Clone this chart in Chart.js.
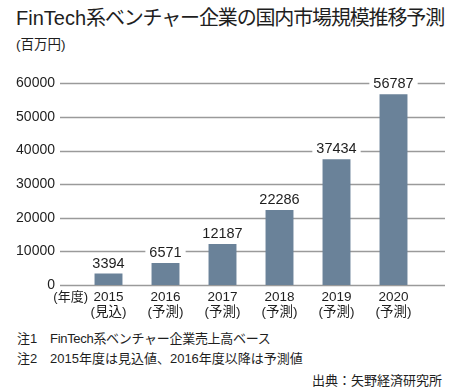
<!DOCTYPE html>
<html>
<head>
<meta charset="utf-8">
<script src="https://cdn.jsdelivr.net/npm/chart.js@4.4.0/dist/chart.umd.min.js"></script>
<style>
  body { margin: 0; background: #fff; }
  #page { position: relative; width: 450px; height: 391px; overflow: hidden;
          font-family: "Liberation Sans", "Noto Sans CJK JP", sans-serif; color: #1e1e1e; }
  .title { position: absolute; left: 16px; top: 7px; font-size: 20px; line-height: 23px; white-space: nowrap; }
  .title .jp { letter-spacing: -1.15px; }
  .unit { position: absolute; left: 16px; top: 37px; font-size: 13.5px; line-height: 16px; }
  .note { position: absolute; font-size: 13px; line-height: 16px; white-space: nowrap; }
  .box { position: absolute; left: 0; top: 50px; width: 450px; height: 275px; }
</style>
</head>
<body>
<div id="page">
  <div class="title">FinTech<span class="jp">系ベンチャー企業の国内市場規模推移予測</span></div>
  <div class="unit">(百万円)</div>
  <div class="box"><canvas id="marketChart" width="450" height="275"></canvas></div>
  <div class="note" style="left:17px; top:331px;">注1</div>
  <div class="note" style="left:50px; top:331px; letter-spacing:-0.3px;">FinTech系ベンチャー企業売上高ベース</div>
  <div class="note" style="left:17px; top:351px;">注2</div>
  <div class="note" style="left:50px; top:351px;">2015年度は見込値、2016年度以降は予測値</div>
  <div class="note" style="right:8px; top:373px;">出典：矢野経済研究所</div>
</div>
<script>
const years = ['2015', '2016', '2017', '2018', '2019', '2020'];
const kinds = ['(見込)', '(予測)', '(予測)', '(予測)', '(予測)', '(予測)'];
const sales = [3394, 6571, 12187, 22286, 37434, 56787];
const yTicks = [0, 10000, 20000, 30000, 40000, 50000, 60000];

const textColor = '#1e1e1e';
const barColor = '#6a8299';
const gridColor = '#9a9a9a';

// grid lines reach a bit past the plot area on both sides
const gridPlugin = {
  id: 'wideGrid',
  beforeDatasetsDraw(chart) {
    const { ctx, chartArea, scales } = chart;
    ctx.save();
    ctx.strokeStyle = gridColor;
    ctx.lineWidth = 1.3;
    yTicks.forEach(v => {
      const y = Math.round(scales.y.getPixelForValue(v)) + 0.5;
      ctx.beginPath();
      ctx.moveTo(chartArea.left - 20, y);
      ctx.lineTo(chartArea.right + 23, y);
      ctx.stroke();
    });
    // year unit under the axis
    ctx.fillStyle = textColor;
    ctx.font = '13px "Liberation Sans", "Noto Sans CJK JP"';
    ctx.textAlign = 'right';
    ctx.textBaseline = 'middle';
    ctx.fillText('(年度)', chartArea.left + 8, chartArea.bottom + 12);
    ctx.restore();
  }
};

const valuePlugin = {
  id: 'values',
  afterDatasetsDraw(chart) {
    const { ctx } = chart;
    const meta = chart.getDatasetMeta(0);
    ctx.save();
    ctx.font = '14.5px "Liberation Sans", "Noto Sans CJK JP"';
    ctx.textAlign = 'center';
    ctx.textBaseline = 'alphabetic';
    meta.data.forEach((bar, i) => {
      const txt = String(sales[i]);
      const w = ctx.measureText(txt).width;
      const base = bar.y - 6;
      ctx.fillStyle = '#fff';
      ctx.fillRect(bar.x - w / 2 - 4, base - 12, w + 8, 14);
      ctx.fillStyle = textColor;
      ctx.fillText(txt, bar.x, base);
    });
    ctx.restore();
  }
};

const ctx = document.getElementById('marketChart').getContext('2d');
new Chart(ctx, {
  type: 'bar',
  data: {
    labels: years.map((y, i) => [y, kinds[i]]),
    datasets: [{
      data: sales,
      backgroundColor: barColor,
      borderWidth: 0,
      barPercentage: 0.49,
      categoryPercentage: 1
    }]
  },
  options: {
    responsive: false,
    animation: false,
    layout: { padding: { top: 11, right: 28, left: 0, bottom: 0 } },
    plugins: { legend: { display: false }, tooltip: { enabled: false } },
    scales: {
      x: {
        grid: { display: false, drawTicks: false },
        border: { display: false },
        ticks: {
          color: textColor,
          padding: 5,
          maxRotation: 0,
          autoSkip: false,
          font: { family: '"Liberation Sans", "Noto Sans CJK JP"', size: 13.5, lineHeight: 1.1 }
        },
        afterFit(scale) { scale.height = 40; }
      },
      y: {
        min: 0,
        max: 60000,
        grid: { display: false, drawTicks: false },
        border: { display: false },
        afterBuildTicks(scale) { scale.ticks = yTicks.map(v => ({ value: v })); },
        ticks: {
          color: textColor,
          padding: 25,
          callback: v => String(v),
          font: { family: '"Liberation Sans", "Noto Sans CJK JP"', size: 14 }
        },
        afterFit(scale) { scale.width = 80; }
      }
    }
  },
  plugins: [gridPlugin, valuePlugin]
});
</script>
</body>
</html>
